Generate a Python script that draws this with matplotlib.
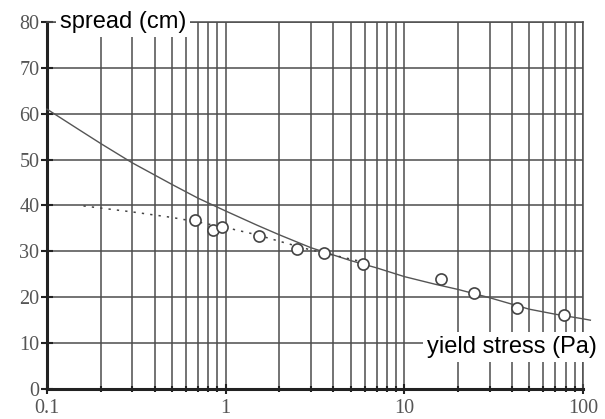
import matplotlib
matplotlib.use('Agg')
import matplotlib.pyplot as plt
from matplotlib.ticker import LogLocator, NullFormatter, FixedLocator

# measured points
stress = [0.67, 0.85, 0.95, 1.53, 2.5, 3.55, 5.9, 16.0, 24.5, 42.7, 78.0]
spread = [36.8, 34.6, 35.3, 33.3, 30.5, 29.6, 27.2, 24.0, 20.9, 17.6, 16.1]

# solid model curve
fit_x = [0.1, 0.15, 0.2, 0.3, 0.5, 0.7, 1.0, 1.5, 2.0, 3.0, 5.0, 7.0, 10.0, 15.0, 20.0, 30.0, 50.0, 70.0, 100.0, 110.0]
fit_y = [61.0, 56.6, 53.5, 49.3, 44.6, 41.6, 38.8, 35.7, 33.6, 30.8, 28.0, 26.4, 24.5, 22.8, 21.7, 19.9, 17.4, 16.3, 15.3, 15.0]

# dotted line
dot_x = [0.16, 0.3, 0.5, 0.7, 1.0, 1.5, 2.0, 3.0, 4.0, 6.0]
dot_y = [39.9, 38.6, 37.4, 36.4, 35.2, 33.6, 32.2, 30.3, 29.2, 27.6]

grid_col = '#4d4d4d'

fig = plt.figure(figsize=(6.05, 4.19), dpi=100)
ax = fig.add_axes([0.0777, 0.0716, 0.8859, 0.8759])

ax.set_xscale('log')
ax.set_xlim(0.1, 100)
ax.set_ylim(0, 80)

ax.xaxis.set_major_locator(FixedLocator([0.1, 1, 10, 100]))
ax.xaxis.set_minor_locator(LogLocator(base=10, subs=range(2, 10)))
ax.xaxis.set_minor_formatter(NullFormatter())
ax.set_xticklabels(['0.1', '1', '10', '100'])
ax.set_yticks(range(0, 81, 10))

ax.grid(True, which='both', color=grid_col, lw=1.1, zorder=0)

ax.plot(fit_x, fit_y, color='#555555', lw=1.0, zorder=3, clip_on=False)
ax.plot(dot_x, dot_y, color='#444444', lw=1.1, ls=(0, (1.5, 4)), zorder=3)
ax.plot(stress, spread, 'o', ms=8, mfc='white', mec='#444444', mew=1.2, zorder=4)

for s in ['left', 'bottom']:
    ax.spines[s].set_linewidth(2.2)
    ax.spines[s].set_color('#222222')
for s in ['top', 'right']:
    ax.spines[s].set_linewidth(1.1)
    ax.spines[s].set_color(grid_col)

ax.tick_params(axis='both', which='both', direction='inout', color='#222222', width=1.5,
               labelcolor='#555555', labelsize=14.5)
ax.tick_params(axis='y', length=9, pad=1)
ax.tick_params(axis='x', which='major', length=7)
ax.tick_params(axis='x', which='minor', length=5)
for lab in ax.get_xticklabels() + ax.get_yticklabels():
    lab.set_family('Liberation Serif')

ax.text(0.024, 1.0, 'spread (cm)', transform=ax.transAxes, fontsize=17, family='Liberation Sans',
        ha='left', va='center', zorder=6,
        bbox=dict(facecolor='white', edgecolor='none', pad=3))
ax.text(1.026, 0.114, 'yield stress (Pa)', transform=ax.transAxes, fontsize=17, family='Liberation Sans',
        ha='right', va='center', zorder=6,
        bbox=dict(facecolor='white', edgecolor='none', pad=3))

fig.savefig('out.png', dpi=100)
